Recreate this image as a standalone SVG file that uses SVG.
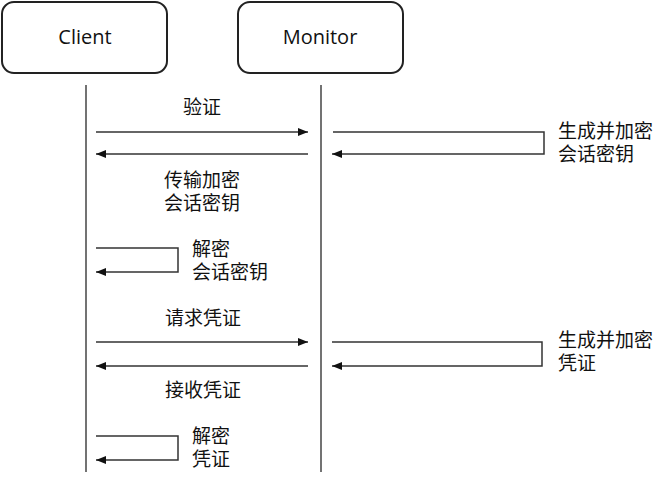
<svg xmlns="http://www.w3.org/2000/svg" width="670" height="482" viewBox="0 0 670 482">
<style>
.box{fill:#fff;stroke:#222;stroke-width:2}
.hd{font-family:"Open Sans","Noto Sans",sans-serif;font-size:20px;fill:#111}
.lbl{font-family:"Noto Sans CJK SC","Noto Sans",sans-serif;font-size:19px;fill:#111}
.life{stroke:#444;stroke-width:1.5;fill:none}
.msg{stroke:#333;stroke-width:1.5;fill:none}
</style>
<defs>
<marker id="ah" viewBox="0 0 10 8" refX="10" refY="4" markerWidth="10" markerHeight="8" markerUnits="userSpaceOnUse" orient="auto">
<path d="M0,0 L10,4 L0,8 Z" fill="#111"/>
</marker>
</defs>
<rect width="670" height="482" fill="#fff"/>
<g id="client">
<rect class="box" x="2" y="2" width="165" height="71" rx="12"/>
<text class="hd" x="85" y="44" text-anchor="middle">Client</text>
</g>
<g id="monitor">
<rect class="box" x="238" y="2" width="165" height="71" rx="12"/>
<text class="hd" x="320" y="44" text-anchor="middle">Monitor</text>
</g>
<g id="connectors">
<line class="life" x1="86" y1="85" x2="86" y2="472"/>
<line class="life" x1="321" y1="85" x2="321" y2="472"/>
<line class="msg" x1="96" y1="132" x2="308" y2="132" marker-end="url(#ah)"/>
<line class="msg" x1="308" y1="154" x2="96" y2="154" marker-end="url(#ah)"/>
<polyline class="msg" points="333,132 544,132 544,154 332,154" marker-end="url(#ah)"/>
<polyline class="msg" points="96,248 178,248 178,272 96,272" marker-end="url(#ah)"/>
<line class="msg" x1="96" y1="342" x2="308" y2="342" marker-end="url(#ah)"/>
<line class="msg" x1="308" y1="366" x2="96" y2="366" marker-end="url(#ah)"/>
<polyline class="msg" points="332,342 542,342 542,366 332,366" marker-end="url(#ah)"/>
<polyline class="msg" points="96,436 178,436 178,460 96,460" marker-end="url(#ah)"/>
</g>
<g id="labels">
<text class="lbl" x="202" y="114" text-anchor="middle">验证</text>
<text class="lbl" text-anchor="middle"><tspan x="202" y="187">传输加密</tspan><tspan x="202" y="210">会话密钥</tspan></text>
<text class="lbl"><tspan x="558" y="138">生成并加密</tspan><tspan x="558" y="161">会话密钥</tspan></text>
<text class="lbl"><tspan x="192" y="256">解密</tspan><tspan x="192" y="279">会话密钥</tspan></text>
<text class="lbl" x="203" y="325" text-anchor="middle">请求凭证</text>
<text class="lbl" x="203" y="397" text-anchor="middle">接收凭证</text>
<text class="lbl"><tspan x="558" y="347">生成并加密</tspan><tspan x="558" y="370">凭证</tspan></text>
<text class="lbl"><tspan x="192" y="443">解密</tspan><tspan x="192" y="466">凭证</tspan></text>
</g>
</svg>
